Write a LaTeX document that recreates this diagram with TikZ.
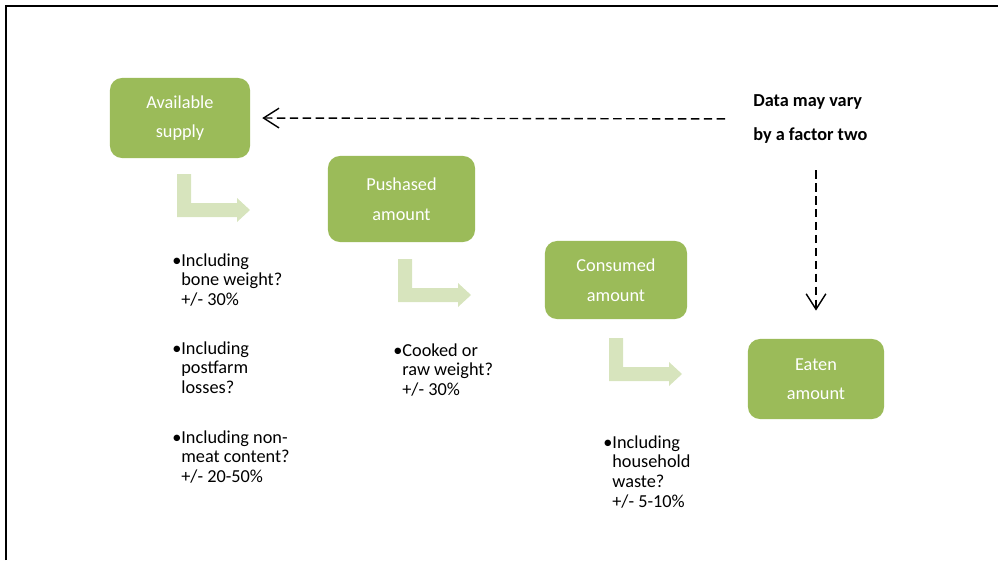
\documentclass[tikz,border=0pt]{standalone}
\usepackage{fontspec}
\setmainfont{Carlito}
\usetikzlibrary{arrows.meta}

\definecolor{boxgreen}{HTML}{9BBB59}
\definecolor{arrowgreen}{HTML}{D7E4BD}

%bent block arrow, #1 = top left corner of its stem
\newcommand{\bentarrow}[1]{%
  \fill[arrowgreen] (#1) -- ++(14,0) -- ++(0,29) -- ++(46,0) -- ++(0,-5)
     -- ++(13,12) -- ++(-13,12) -- ++(0,-5) -- ++(-60,0) -- cycle;}
%bulleted lines, continuation lines start with &
\newcommand{\point}[1]{\begin{tabular}[t]{@{}l@{}l@{}}\textbullet&#1\end{tabular}}

\begin{document}
\begin{tikzpicture}
%Food amounts
	[
	 	 %Styles
       x=0.025cm, y=-0.025cm,
       amount_node/.style={rectangle,rounded corners=0.3cm,fill=boxgreen,text=white,
          align=center,font=\fontsize{13}{21}\selectfont},
       note_node/.style={inner sep=0pt,anchor=base west,font=\fontsize{13}{14.2}\selectfont},
       data_label/.style={inner sep=0pt,anchor=west,align=left,font=\bfseries\fontsize{13}{24}\selectfont},
       vary_edge/.style={dashed,dash pattern=on 6pt off 3.2pt,line width=1pt,
          -{Straight Barb[length=11pt,width=14pt,line width=1pt]}}
    ]
    \useasboundingbox (0,0) rectangle (998,560);

    %Frame
    \draw[line width=1.4pt] (6,560) |- (998,6);

    %Node placement
    \node (supply) [amount_node, minimum width=3.5cm, minimum height=2cm] at (180,118) {Available\\supply};
    \node (pushased) [amount_node, minimum width=3.675cm, minimum height=2.15cm] at (401.5,199) {Pushased\\amount};
    \node (consumed) [amount_node, minimum width=3.55cm, minimum height=1.95cm] at (616,280) {Consumed\\amount};
    \node (eaten) [amount_node, minimum width=3.4cm, minimum height=2cm] at (816,379) {Eaten\\amount};

    \node (data) [data_label] at (753,119) {Data may vary\\by a factor two};

    %Notes
    \node (bone) [note_node] at (172,266) {\point{Including\\&bone weight?\\&+/- 30\%}};
    \node (postfarm) [note_node] at (172,354) {\point{Including\\&postfarm\\&losses?}};
    \node (nonmeat) [note_node] at (172,443) {\point{Including non-\\&meat content?\\&+/- 20-50\%}};
    \node (cooked) [note_node] at (393,356) {\point{Cooked or\\&raw weight?\\&+/- 30\%}};
    \node (waste) [note_node] at (603,448) {\point{Including\\&household\\&waste?\\&+/- 5-10\%}};

    %Block arrows
    \bentarrow{177,174}
    \bentarrow{398,259}
    \bentarrow{609,338}

    %Edges
    \path
       (data.west) edge [vary_edge, shorten <=19.8pt, shorten >=8.5pt] (supply.east)
       (data.south -| eaten.north) edge [vary_edge, shorten <=19pt, shorten >=20pt] (eaten.north);
\end{tikzpicture}
\end{document}
